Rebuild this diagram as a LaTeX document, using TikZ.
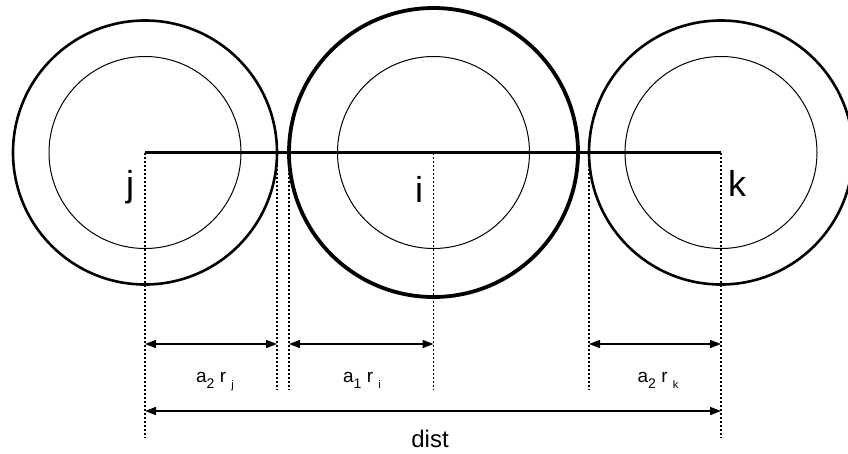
\documentclass[tikz,border=0pt]{standalone}
\usepackage{fontspec}
\setmainfont{Liberation Sans}
\usetikzlibrary{arrows.meta}
\newcommand{\subdig}[1]{\raisebox{-6pt}{\fontsize{14}{14}\selectfont #1}}
\newcommand{\sublet}[1]{\raisebox{-6pt}{\fontsize{11}{11}\selectfont #1}}
\begin{document}
\begin{tikzpicture}[x=1pt,y=-1pt,
  outer/.style={line width=2.6pt},
  thickouter/.style={line width=3.8pt},
  inner/.style={line width=1pt},
  guide/.style={line width=1.2pt, dash pattern=on 2pt off 2pt},
  dim/.style={line width=1.6pt, {Triangle[length=11pt,width=8pt]}-{Triangle[length=11pt,width=8pt]}},
  biglbl/.style={font=\fontsize{36}{36}\selectfont, inner sep=0pt, anchor=base},
  smalllbl/.style={font=\fontsize{19}{19}\selectfont, inner sep=0pt, anchor=base},
  distlbl/.style={font=\fontsize{24}{24}\selectfont, inner sep=0pt, anchor=base},
]
\useasboundingbox (0,0) rectangle (848,453);
% centres
\coordinate (cj) at (145,152.5);
\coordinate (ci) at (433.5,152.5);
\coordinate (ck) at (721,152.5);
% circles
\draw[outer] (cj) circle[radius=132];
\draw[inner] (cj) circle[radius=96];
\draw[thickouter] (ci) circle[radius=144.5];
\draw[inner] (ci) circle[radius=96];
\draw[outer] (ck) circle[radius=132];
\draw[inner] (ck) circle[radius=96];
% centre line
\draw[line width=3.8pt] (cj) -- (ck);
% guide lines
\coordinate (gj) at (145,437);
\coordinate (tjt) at (277,152.5);
\coordinate (tjb) at (277,389);
\coordinate (tit) at (289,152.5);
\coordinate (tib) at (289,389);
\coordinate (gi) at (433.5,389);
\coordinate (tkt) at (589,152.5);
\coordinate (tkb) at (589,389);
\coordinate (gk) at (721,437);
\draw[guide] (cj) -- (gj);
\draw[guide] (tjt) -- (tjb);
\draw[guide] (tit) -- (tib);
\draw[guide] (ci) -- (gi);
\draw[guide] (tkt) -- (tkb);
\draw[guide] (ck) -- (gk);
% dimension arrows
\coordinate (a1l) at (145,344);
\coordinate (a1r) at (277,344);
\coordinate (a2l) at (289,344);
\coordinate (a2r) at (433.5,344);
\coordinate (a3l) at (589,344);
\coordinate (a3r) at (721,344);
\coordinate (dl) at (145,411);
\coordinate (dr) at (721,411);
\draw[dim] (a1l) -- (a1r);
\draw[dim] (a2l) -- (a2r);
\draw[dim] (a3l) -- (a3r);
\draw[dim] (dl) -- (dr);
% labels
\node[biglbl] (lj) at (130,196) {j};
\node[biglbl] (li) at (419,202) {i};
\node[biglbl] (lk) at (737,196) {k};
\node[smalllbl] (lrj) at (215,382) {a\subdig{2} r \sublet{j}};
\node[smalllbl] (lri) at (362,382) {a\subdig{1} r \sublet{i}};
\node[smalllbl] (lrk) at (658,382) {a\subdig{2} r \sublet{k}};
\node[distlbl] (ld) at (430,447) {dist};
\end{tikzpicture}
\end{document}
